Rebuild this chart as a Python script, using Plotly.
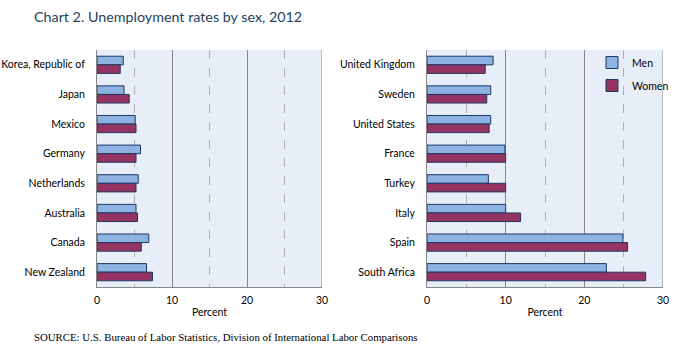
import plotly.graph_objects as go

left_countries = ["Korea, Republic of", "Japan", "Mexico", "Germany", "Netherlands",
                  "Australia", "Canada", "New Zealand"]
left_men = [3.5, 3.6, 5.1, 5.8, 5.5, 5.2, 6.9, 6.6]
left_women = [3.1, 4.3, 5.2, 5.2, 5.2, 5.4, 5.9, 7.4]

right_countries = ["United Kingdom", "Sweden", "United States", "France", "Turkey",
                   "Italy", "Spain", "South Africa"]
right_men = [8.4, 8.1, 8.1, 9.9, 7.8, 10.0, 24.9, 22.8]
right_women = [7.4, 7.6, 7.9, 10.0, 10.0, 11.9, 25.5, 27.8]

x_ticks = [0, 10, 20, 30]

title_text = "Chart 2. Unemployment rates by sex, 2012"
source_text = "SOURCE: U.S. Bureau of Labor Statistics, Division of International Labor Comparisons"

MEN_FILL = "#8DB3E2"
WOMEN_FILL = "#953463"
EDGE = "#1F3864"
FONT = "Lato"

W, H = 675, 362

fig = go.Figure()

def add_pair(countries, men, women, xa, ya, show):
    fig.add_trace(go.Bar(y=countries, x=men, orientation="h", name="Men",
                         marker=dict(color=MEN_FILL, line=dict(color=EDGE, width=1)),
                         xaxis=xa, yaxis=ya, showlegend=show, legendgroup="men",
                         offsetgroup="m"))
    fig.add_trace(go.Bar(y=countries, x=women, orientation="h", name="Women",
                         marker=dict(color=WOMEN_FILL, line=dict(color=EDGE, width=1)),
                         xaxis=xa, yaxis=ya, showlegend=show, legendgroup="women",
                         offsetgroup="w"))

add_pair(left_countries, left_men, left_women, "x", "y", False)
add_pair(right_countries, right_men, right_women, "x2", "y2", True)

def px_x(p):
    return p / W

def px_y(p):
    return 1 - p / H

xcommon = dict(range=[0, 30], tickvals=x_ticks, showgrid=True, gridcolor="#868686",
               gridwidth=1, showline=True, linecolor="#868686", linewidth=1,
               zeroline=False, ticks="", ticklabelstandoff=3, automargin=False,
               tickfont=dict(family=FONT, size=10.5, color="#000000"),
               title=dict(text="Percent", font=dict(family=FONT, size=10.5, color="#000000"),
                          standoff=4),
               minor=dict(dtick=5, showgrid=True, gridcolor="#B0B0B0", griddash="dash",
                          gridwidth=1, ticks=""),
               fixedrange=True)
ycommon = dict(autorange="reversed", showgrid=False, showline=True, linecolor="#868686",
               linewidth=1, ticks="", ticklabelstandoff=9, zeroline=False, automargin=False,
               tickfont=dict(family=FONT, size=10.5, color="#000000"), fixedrange=True)

top, bottom = px_y(50), px_y(287)

fig.update_layout(
    width=W, height=H,
    margin=dict(l=0, r=0, t=0, b=0, autoexpand=False),
    paper_bgcolor="#FFFFFF",
    plot_bgcolor="#E8EEF8",
    barmode="group",
    bargap=0.42,
    bargroupgap=0,
    xaxis=dict(domain=[px_x(97), px_x(322)], anchor="y", **xcommon),
    yaxis=dict(domain=[bottom, top], anchor="x", **ycommon),
    xaxis2=dict(domain=[px_x(427), px_x(663)], anchor="y2", **xcommon),
    yaxis2=dict(domain=[bottom, top], anchor="x2", **ycommon),
    legend=dict(x=px_x(592), y=px_y(48), xanchor="left", yanchor="top",
                bgcolor="rgba(0,0,0,0)", traceorder="grouped", tracegroupgap=4,
                font=dict(family=FONT, size=10.5, color="#000000"),
                itemwidth=30, itemclick=False),
    showlegend=True,
)

# right border lines at 30 (solid)
for xa, ya in (("x", "y"), ("x2", "y2")):
    fig.add_shape(type="line", xref=xa, yref=f"{ya} domain", x0=30, x1=30, y0=0, y1=1,
                  line=dict(color="#868686", width=1))

fig.add_annotation(text=title_text, x=px_x(32), y=px_y(16), xref="paper", yref="paper",
                   xanchor="left", yanchor="middle", showarrow=False,
                   font=dict(family=FONT, size=14.3, color="#243F60"))
fig.add_annotation(text=source_text, x=px_x(32), y=px_y(337), xref="paper", yref="paper",
                   xanchor="left", yanchor="middle", showarrow=False,
                   font=dict(family="Liberation Serif", size=10.8, color="#000000"))

fig.write_html("out.html", config={"displayModeBar": False},
               post_script="document.body.style.margin='0';document.body.style.overflow='hidden';")
